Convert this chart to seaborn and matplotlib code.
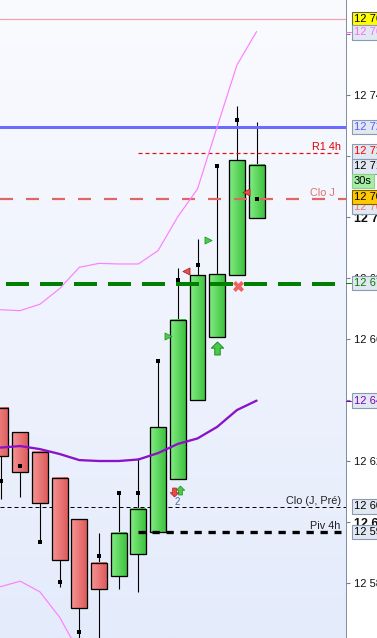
import numpy as np
import pandas as pd
import matplotlib
matplotlib.use("Agg")
import matplotlib.pyplot as plt
import seaborn as sns
from matplotlib.patches import Rectangle
from matplotlib.colors import LinearSegmentedColormap
import matplotlib.transforms as mtransforms

# ---------------- data ----------------
candle_idx = list(range(14))
opens  = [12.6374, 12.6295, 12.6230, 12.6144, 12.6010, 12.5866, 12.5823,
          12.5895, 12.5967, 12.6141, 12.6401, 12.6607, 12.6810, 12.6997]
closes = [12.6216, 12.6164, 12.6062, 12.5875, 12.5720, 12.5780, 12.5964,
          12.6043, 12.6311, 12.6663, 12.6810, 12.6813, 12.7187, 12.7171]
highs  = [12.6374, 12.6295, 12.6230, 12.6144, 12.6010, 12.5964, 12.6095,
          12.6210, 12.6529, 12.6833, 12.6929, 12.7175, 12.7365, 12.7312]
lows   = [12.6076, 12.6084, 12.5934, 12.5789, 12.5610, 12.5610, 12.5780,
          12.5772, 12.5967, 12.6141, 12.6401, 12.6607, 12.6810, 12.6997]
square_marks = [12.6135, 12.6184, 12.5934, 12.5803, 12.5639, 12.5889, 12.6095,
                12.6095, 12.6529, 12.6793, 12.6843, 12.7167, 12.7318, 12.7059]

bb_upper = [12.6697, 12.6694, 12.6715, 12.6766, 12.6836, 12.6849, 12.6847,
            12.6847, 12.6891, 12.7002, 12.7093, 12.7297, 12.7499, 12.7609]
bb_mid   = [12.6245, 12.6250, 12.6240, 12.6224, 12.6204, 12.6201, 12.6201,
            12.6206, 12.6227, 12.6257, 12.6275, 12.6313, 12.6368, 12.6399]
bb_lower = [12.5789, 12.5807, 12.5772, 12.5689, 12.5572, 12.5553, 12.5555,
            12.5565, 12.5563, 12.5512, 12.5457, 12.5329, 12.5237, 12.5189]

top_level = 12.7650
blue_level = 12.7297
r1_4h_level = 12.7210
clo_j_level = 12.7060
green_level = 12.6781
clo_j_pre_level = 12.6051
piv_4h_level = 12.5969
h4_start_idx = 6.98

tri_right_x = [8.52, 10.55]
tri_right_y = [12.6612, 12.6925]
tri_left_x = [9.44, 12.48]
tri_left_y = [12.6823, 12.7082]
cross_x, cross_y = 12.04, 12.6774
big_up_x, big_up_y = 11.01, 12.6570
small_down_x, small_down_y = 8.82, 12.6100
small_up_x, small_up_y = 9.10, 12.6106
count_x, count_y, count_text = 8.98, 12.6066, "2"

tick_values = [12.58, 12.60, 12.62, 12.64, 12.66, 12.68, 12.70, 12.72, 12.74, 12.76]
tick_labels = ["12 58", "12 6", "12 62", "12 64", "12 66", "12 68", "12 7", "12 72", "12 74", "12 76"]
bold_ticks = [12.60, 12.70]

box_prices = [12.7650, 12.7606, 12.7297, 12.7216, 12.7167, 12.7119, 12.7034,
              12.7067, 12.6784, 12.6399, 12.6052, 12.5969]
box_texts = ["12 76", "12 76", "12 72", "12 72", "12 71", "30s", "12 70",
             "12 70", "12 67", "12 64", "12 60", "12 59"]

# ---------------- styles ----------------
box_text_colors = ["#000000", "#ff66ff", "#5a5aff", "#ff0000", "#000000", "#000000",
                   "#f07878", "#000000", "#008000", "#8000c0", "#000000", "#000000"]
box_face_colors = ["#ffff00", "#e2e8f2", "#e2e8f2", "#e2e8f2", "#e2e8f2", "#a6eea6",
                   "#e2e8f2", "#ffc800", "#e2e8f2", "#e2e8f2", "#e2e8f2", "#e2e8f2"]
box_edge_colors = ["#606060", "#8a9ab0", "#8a9ab0", "#8a9ab0", "#8a9ab0", "#8fd08f",
                   "#8a9ab0", "#806000", "#8a9ab0", "#8a9ab0", "#8a9ab0", "#8a9ab0"]

sns.set_style("white")
plt.rcParams["font.family"] = ["Liberation Sans", "DejaVu Sans"]
plt.rcParams["lines.scale_dashes"] = False

W, H = 377, 638
AXW = 346
fig = plt.figure(figsize=(W / 100, H / 100), dpi=100, facecolor="white")
ax = fig.add_axes([0, 0, AXW / W, 1])
PX = 0.72  # points per pixel

y_lo, y_hi = 12.56207, 12.77125
x_lo, x_hi = -0.0254, 17.538

# background gradient
bg_cmap = LinearSegmentedColormap.from_list("bg", ["#fafbff", "#e4ebfb"])
ax.imshow(np.linspace(0, 1, 256).reshape(-1, 1), extent=[0, 1, 0, 1],
          transform=ax.transAxes, aspect="auto", cmap=bg_cmap, zorder=0)

blend = mtransforms.blended_transform_factory(ax.transAxes, ax.transData)

# horizontal levels
ax.axhline(top_level, color="#f0a0a8", lw=1.2 * PX, zorder=1)
ax.axhline(clo_j_pre_level, color="#000000", lw=1 * PX,
           linestyle=(0, (4 * PX, 3 * PX)), zorder=1)
ax.axhline(blue_level, color="#6b6bff", lw=3 * PX, zorder=5.5)
ax.axhline(clo_j_level, color="#e06666", lw=2.2 * PX,
           linestyle=(0, (13 * PX, 13 * PX)), zorder=5.5)
ax.axhline(green_level, color="#008000", lw=4 * PX,
           linestyle=(28 * PX, (23 * PX, 11 * PX)), zorder=5.5)
ax.hlines(r1_4h_level, h4_start_idx, x_hi * 0.985, color="#dd1111", lw=1.2 * PX,
          linestyle=(0, (4 * PX, 3 * PX)), zorder=5.5)
ax.hlines(piv_4h_level, h4_start_idx, x_hi * 0.985, color="#000000", lw=3.3 * PX,
          linestyle=(0, (7.3 * PX, 6.7 * PX)), zorder=5.5)

# candles
green_cmap = LinearSegmentedColormap.from_list("g", ["#84ec84", "#3ec23e"])
red_cmap = LinearSegmentedColormap.from_list("r", ["#f79494", "#de5c5c"])
bw = 0.81
grad = np.linspace(0, 1, 64).reshape(1, -1)
ax.vlines(candle_idx, lows, highs, color="black", lw=1.1 * PX, zorder=3)
for i, o, c in zip(candle_idx, opens, closes):
    lo, hi = min(o, c), max(o, c)
    cm = green_cmap if c >= o else red_cmap
    ax.imshow(grad, extent=[i - bw / 2, i + bw / 2, lo, hi], aspect="auto",
              cmap=cm, zorder=4, interpolation="bilinear")
    ax.add_patch(Rectangle((i - bw / 2, lo), bw, hi - lo, fill=False,
                           ec="black", lw=1.3 * PX, zorder=5))

# bollinger bands via seaborn
bands = pd.DataFrame({"idx": candle_idx, "upper": bb_upper, "mid": bb_mid, "lower": bb_lower})
sns.lineplot(data=bands, x="idx", y="upper", color="#ff80ff", lw=1.2 * PX, ax=ax, zorder=5.6)
sns.lineplot(data=bands, x="idx", y="lower", color="#ff80ff", lw=1.2 * PX, ax=ax, zorder=5.6)
sns.lineplot(data=bands, x="idx", y="mid", color="#8a12c8", lw=2.3 * PX, ax=ax, zorder=5.6)

# markers
ax.scatter(candle_idx, square_marks, marker="s", s=(5 * PX) ** 2, color="black",
           zorder=6, linewidths=0)
ax.scatter(tri_right_x, tri_right_y, marker=">", s=(7 * PX) ** 2, color="#4ccc4c",
           edgecolors="#1f9a1f", linewidths=0.6, zorder=6)
ax.scatter(tri_left_x, tri_left_y, marker="<", s=(7 * PX) ** 2, color="#e85050",
           edgecolors="#b02020", linewidths=0.6, zorder=6)
ax.scatter([cross_x], [cross_y], marker="X", s=(11 * PX) ** 2, color="#f06262",
           linewidths=0, zorder=6)
arrow_up = [(0, 1), (0.95, 0.05), (0.42, 0.05), (0.42, -1), (-0.42, -1),
            (-0.42, 0.05), (-0.95, 0.05), (0, 1)]
arrow_down = [(x, -y) for x, y in arrow_up]
ax.scatter([big_up_x], [big_up_y], marker=arrow_up, s=(13 * PX) ** 2, color="#48cc48",
           edgecolors="#1e8e1e", linewidths=0.7, zorder=6)
ax.scatter([small_up_x], [small_up_y], marker=arrow_up, s=(9 * PX) ** 2, color="#48cc48",
           edgecolors="#1e8e1e", linewidths=0.5, zorder=6)
ax.scatter([small_down_x], [small_down_y], marker=arrow_down, s=(9 * PX) ** 2,
           color="#e84a4a", edgecolors="#b02020", linewidths=0.5, zorder=6)
ax.text(count_x, count_y, count_text, fontsize=7, color="#4a6a9a",
        ha="center", va="center", zorder=6)

# level labels
for price, txt, col, xr in [(r1_4h_level, "R1 4h", "#e00000", 341),
                            (clo_j_level, "Clo J", "#e07070", 335),
                            (clo_j_pre_level, "Clo (J, Pré)", "#202020", 341),
                            (piv_4h_level, "Piv 4h", "#202020", 340)]:
    ax.annotate(txt, xy=(xr / AXW, price), xycoords=blend, xytext=(0, 3 * PX),
                textcoords="offset points", ha="right", va="baseline",
                fontsize=7.8, color=col, zorder=7)

# axes / ticks
ax.set_xlim(x_lo, x_hi)
ax.set_ylim(y_lo, y_hi)
ax.set_xlabel("")
ax.set_ylabel("")
ax.set_xticks([])
ax.yaxis.tick_right()
ax.set_yticks(tick_values)
ax.set_yticklabels(tick_labels)
ax.tick_params(axis="y", direction="out", length=4 * PX, width=0.8,
               color="#708090", pad=4 * PX, labelsize=8, labelcolor="#101010")
for lbl, v in zip(ax.get_yticklabels(), tick_values):
    if any(abs(v - b) < 1e-6 for b in bold_ticks):
        lbl.set_fontweight("bold")
        lbl.set_fontsize(9)
for s in ["left", "top", "bottom"]:
    ax.spines[s].set_visible(False)
ax.spines["right"].set_color("#8090a4")
ax.spines["right"].set_linewidth(1 * PX)

# colored tick stubs
for price, col in [(12.7606, "#ff66ff"), (12.6784, "#008000"), (12.6399, "#8000c0")]:
    ax.plot([1.0, 1.0 + 5 / AXW], [price, price], transform=blend, color=col,
            lw=1 * PX, clip_on=False, zorder=8)

# axis value boxes
box_x = 354 / AXW
for p, t, tc, fc, ec in zip(box_prices, box_texts, box_text_colors,
                            box_face_colors, box_edge_colors):
    ax.text(box_x, p, t, transform=blend, fontsize=8, color=tc, ha="left",
            va="center", clip_on=False, zorder=9,
            bbox=dict(boxstyle="square,pad=0.2", fc=fc, ec=ec, lw=0.8))

fig.savefig("out.png", dpi=100, facecolor="white")
